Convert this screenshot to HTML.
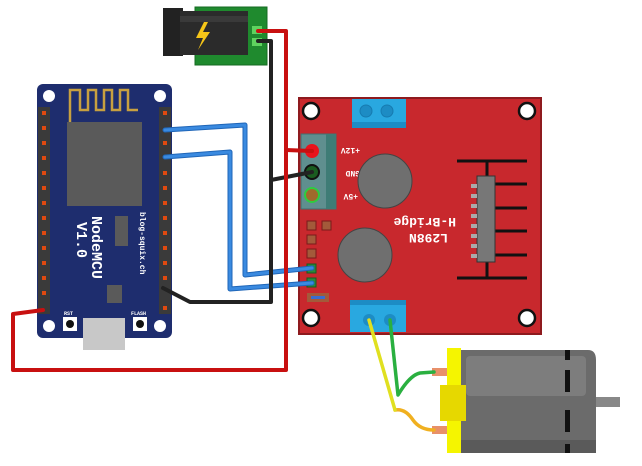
<!DOCTYPE html>
<html><head><style>body{margin:0;background:#fff}svg{display:block}</style></head><body>
<svg width="642" height="466" viewBox="0 0 642 466" xmlns="http://www.w3.org/2000/svg" font-family="Liberation Mono, monospace">
<!-- DC jack -->
<rect x="195" y="7" width="72" height="58" fill="#1f8a2e" stroke="#156b22"/>
<rect x="163" y="8" width="20" height="48" fill="#222"/>
<rect x="180" y="11" width="68" height="44" fill="#2b2b2b"/>
<rect x="180" y="16" width="68" height="6" fill="#3a3a3a"/>
<polygon points="204,22 196,38 203,38 198,50 210,32 203,32 208,22" fill="#f5c518"/>
<rect x="252" y="26" width="10" height="8" fill="#5fd35f"/>
<rect x="252" y="38" width="10" height="8" fill="#5fd35f"/>
<!-- H-bridge -->
<rect x="299" y="98" width="242" height="236" fill="#c8282d" stroke="#8e1a1e" stroke-width="2"/>
<g fill="#fff" stroke="#111" stroke-width="2.5"><circle cx="311" cy="111" r="8"/><circle cx="527" cy="111" r="8"/><circle cx="311" cy="318" r="8"/><circle cx="527" cy="318" r="8"/></g>
<rect x="352" y="99" width="54" height="29" fill="#29a8e0"/><rect x="352" y="122" width="54" height="6" fill="#1d8cc4"/>
<circle cx="366" cy="111" r="6" fill="#1d8cc4" stroke="#167bb0"/><circle cx="387" cy="111" r="6" fill="#1d8cc4" stroke="#167bb0"/>
<rect x="350" y="300" width="56" height="32" fill="#29a8e0"/><rect x="350" y="300" width="56" height="5" fill="#1d8cc4"/>
<circle cx="369" cy="320" r="6" fill="#1d8cc4"/><circle cx="390" cy="320" r="6" fill="#1d8cc4"/>
<rect x="301" y="134" width="35" height="75" fill="#5f8f8f" stroke="#3f7070"/><rect x="326" y="134" width="10" height="75" fill="#3e7c76"/>
<circle cx="312" cy="151" r="7" fill="#e8141c"/><circle cx="312" cy="172" r="7" fill="#1a5c20" stroke="#111" stroke-width="2"/><circle cx="312" cy="195" r="7" fill="#a06a2c" stroke="#2ecc40" stroke-width="2"/>
<g fill="#fff" font-size="8" font-weight="bold">
<text transform="translate(360,148) rotate(180)">+12V</text>
<text transform="translate(360,171) rotate(180)">GND</text>
<text transform="translate(358,194) rotate(180)">+5V</text>
<text transform="translate(456,218) rotate(180)" font-size="13">H-Bridge</text>
<text transform="translate(448,234) rotate(180)" font-size="13">L298N</text>
</g>
<circle cx="385" cy="181" r="27" fill="#6f6f6f" stroke="#444"/>
<circle cx="365" cy="255" r="27" fill="#6f6f6f" stroke="#444"/>
<g stroke="#111" stroke-width="3"><line x1="457" y1="161" x2="527" y2="161"/><line x1="487" y1="161" x2="487" y2="278"/>
<line x1="487" y1="184" x2="527" y2="184"/><line x1="487" y1="208" x2="527" y2="208"/><line x1="487" y1="231" x2="527" y2="231"/><line x1="487" y1="255" x2="527" y2="255"/><line x1="457" y1="278" x2="527" y2="278"/></g>
<rect x="477" y="176" width="18" height="86" fill="#777" stroke="#333"/>
<g fill="#aaa"><rect x="471" y="184" width="6" height="4"/><rect x="471" y="194" width="6" height="4"/><rect x="471" y="204" width="6" height="4"/><rect x="471" y="214" width="6" height="4"/><rect x="471" y="224" width="6" height="4"/><rect x="471" y="234" width="6" height="4"/><rect x="471" y="244" width="6" height="4"/><rect x="471" y="254" width="6" height="4"/></g>
<g fill="#a35a3a" stroke="#7a1a1a"><rect x="307" y="221" width="9" height="9"/><rect x="322" y="221" width="9" height="9"/><rect x="307" y="235" width="9" height="9"/><rect x="307" y="249" width="9" height="9"/></g>
<g fill="#2a8a3a" stroke="#1a5a22"><rect x="307" y="264" width="9" height="9"/><rect x="307" y="278" width="9" height="9"/></g>
<rect x="307" y="293" width="22" height="9" fill="#a35a3a"/><rect x="311" y="296" width="14" height="3" fill="#3a6cd0"/>
<!-- NodeMCU -->
<rect x="37" y="84" width="135" height="254" rx="6" fill="#1e2d6e"/>
<g fill="#fff"><circle cx="49" cy="96" r="6"/><circle cx="160" cy="96" r="6"/><circle cx="49" cy="326" r="6"/><circle cx="160" cy="326" r="6"/></g>
<path d="M70 122 V90 H80 V110 H88 V90 H96 V110 H104 V90 H112 V110 H120 V90 H128 V110 H138" fill="none" stroke="#c8a040" stroke-width="2.5"/>
<rect x="67" y="122" width="75" height="84" fill="#5a5a5a"/>
<rect x="115" y="216" width="13" height="30" fill="#5a5a5a"/><rect x="107" y="285" width="15" height="18" fill="#5a5a5a"/>
<rect x="38" y="107" width="12" height="207" fill="#3a3a3a"/><rect x="159" y="107" width="12" height="207" fill="#3a3a3a"/>
<g fill="#e04a10">
<rect x="42" y="111" width="4" height="4"/><rect x="42" y="126" width="4" height="4"/><rect x="42" y="141" width="4" height="4"/><rect x="42" y="156" width="4" height="4"/><rect x="42" y="171" width="4" height="4"/><rect x="42" y="186" width="4" height="4"/><rect x="42" y="201" width="4" height="4"/><rect x="42" y="216" width="4" height="4"/><rect x="42" y="231" width="4" height="4"/><rect x="42" y="246" width="4" height="4"/><rect x="42" y="261" width="4" height="4"/><rect x="42" y="276" width="4" height="4"/><rect x="42" y="291" width="4" height="4"/>
<rect x="163" y="111" width="4" height="4"/><rect x="163" y="141" width="4" height="4"/><rect x="163" y="171" width="4" height="4"/><rect x="163" y="186" width="4" height="4"/><rect x="163" y="201" width="4" height="4"/><rect x="163" y="216" width="4" height="4"/><rect x="163" y="231" width="4" height="4"/><rect x="163" y="246" width="4" height="4"/><rect x="163" y="261" width="4" height="4"/><rect x="163" y="276" width="4" height="4"/><rect x="163" y="306" width="4" height="4"/>
</g>
<g fill="#fff" font-weight="bold">
<text transform="translate(92,216) rotate(90)" font-size="15">NodeMCU</text>
<text transform="translate(77,222) rotate(90)" font-size="15">V1.0</text>
<text transform="translate(140,212) rotate(90)" font-size="8">blog-squix.ch</text>
<text x="64" y="315" font-size="5">RST</text><text x="131" y="315" font-size="5">FLASH</text>
</g>
<rect x="63" y="317" width="14" height="14" fill="#fff"/><circle cx="70" cy="324" r="4" fill="#111"/>
<rect x="133" y="317" width="14" height="14" fill="#fff"/><circle cx="140" cy="324" r="4" fill="#111"/>
<rect x="83" y="318" width="42" height="32" fill="#c8c8c8"/>
<!-- Motor -->
<rect x="595" y="397" width="25" height="10" fill="#888"/>
<path d="M460 350 H588 Q596 350 596 360 V444 Q596 453 588 453 H460 Z" fill="#6b6b6b"/>
<rect x="466" y="356" width="120" height="40" rx="4" fill="#7d7d7d"/>
<rect x="460" y="440" width="136" height="13" fill="#5a5a5a"/>
<g fill="#111"><rect x="565" y="350" width="5" height="10"/><rect x="565" y="370" width="5" height="22"/><rect x="565" y="410" width="5" height="22"/><rect x="565" y="444" width="5" height="9"/></g>
<rect x="447" y="348" width="14" height="105" fill="#f5f500"/>
<rect x="440" y="385" width="26" height="36" fill="#e6d800"/>
<rect x="432" y="368" width="15" height="8" fill="#e8906a"/><rect x="432" y="426" width="15" height="8" fill="#e8906a"/>
<!-- Wires -->
<g fill="none" stroke-linejoin="round" stroke-linecap="round">
<polyline points="165,130 245,125 245,275 312,268" stroke="#1f66b8" stroke-width="5"/>
<polyline points="165,130 245,125 245,275 312,268" stroke="#3a8ae0" stroke-width="3"/>
<polyline points="165,157 230,152 230,289 312,283" stroke="#1f66b8" stroke-width="5"/>
<polyline points="165,157 230,152 230,289 312,283" stroke="#3a8ae0" stroke-width="3"/>
<polyline points="258,41 271,41 271,302 190,302 163,288" stroke="#222" stroke-width="4"/>
<polyline points="271,180 312,172" stroke="#222" stroke-width="4"/>
<polyline points="258,31 286,31 286,370 13,370 13,314 43,310" stroke="#c81010" stroke-width="4"/>
<polyline points="286,150 312,151" stroke="#c81010" stroke-width="4"/>
<path d="M395,410 Q405,408 413,420 Q420,430 434,430" stroke="#f0b020" stroke-width="3.5"/>
<line x1="369" y1="320" x2="395" y2="410" stroke="#e0e020" stroke-width="3.5"/>
<path d="M390,320 L398,395 Q410,375 420,373 L434,372" stroke="#2ab040" stroke-width="3.5"/>
</g>
</svg>
</body></html>
